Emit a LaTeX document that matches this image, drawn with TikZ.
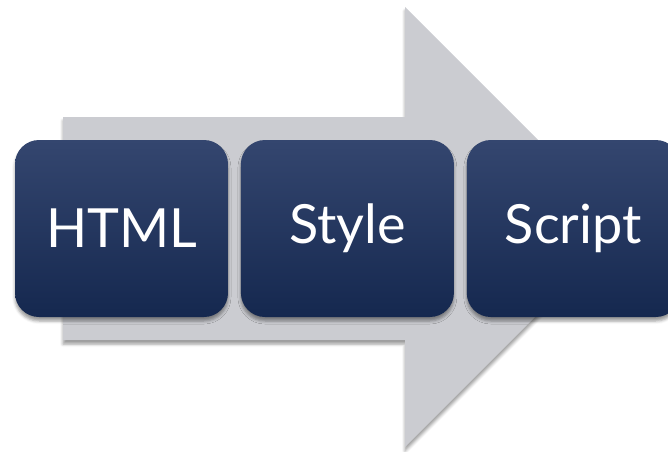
\documentclass[tikz,border=0pt]{standalone}
\usepackage{fontspec}
\setmainfont{Lato}
\usetikzlibrary{positioning,shadows.blur}
\definecolor{arrowgrey}{HTML}{CBCCD1}
\definecolor{boxtop}{HTML}{34466F}
\definecolor{boxbottom}{HTML}{15284F}
\begin{document}
\begin{tikzpicture}
      [x=1pt,y=-1pt,node distance=12.5pt,
      boxshadow/.style={blur shadow={shadow xshift=0pt,shadow yshift=-4pt,shadow blur radius=3pt,shadow opacity=40}},
      stage/.style={shape=rectangle,rounded corners=24pt,minimum width=213pt,minimum height=177pt,inner sep=0pt,
        top color=boxtop,bottom color=boxbottom,text=white,font=\fontsize{54}{62}\selectfont,boxshadow}]
\useasboundingbox (0,0) rectangle (668,451);
\begin{scope}
\clip (0,0) rectangle (668,451);
\fill[arrowgrey,boxshadow] (63,117) -- (405,117) -- (405,7) -- (625,227) -- (405,447) -- (405,340) -- (63,340) -- cycle;
\node[stage] (html) at (121.5,228.5) {HTML};
\node[stage,right=of html] (style) {Style};
\node[stage,right=of style] (script) {Script};
\end{scope}
\end{tikzpicture}
\end{document}
